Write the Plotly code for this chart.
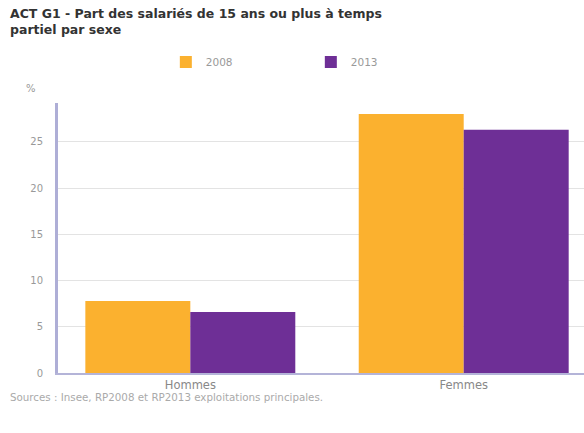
import plotly.graph_objects as go

categories = ["Hommes", "Femmes"]
values_2008 = [7.8, 28.0]
values_2013 = [6.6, 26.3]
series_names = ["2008", "2013"]
y_ticks = [0, 5, 10, 15, 20, 25]

title_text = "ACT G1 - Part des salariés de 15 ans ou plus à temps<br>partiel par sexe"
source_text = "Sources : Insee, RP2008 et RP2013 exploitations principales."

FONT = "DejaVu Sans"

fig = go.Figure()
fig.add_trace(go.Bar(x=categories, y=values_2008, name=series_names[0],
                     marker=dict(color="#FBB12F", line=dict(width=0))))
fig.add_trace(go.Bar(x=categories, y=values_2013, name=series_names[1],
                     marker=dict(color="#6E2F96", line=dict(width=0))))

fig.update_layout(
    width=584, height=433,
    margin=dict(l=58, r=0, t=103, b=60),
    paper_bgcolor="white", plot_bgcolor="white",
    barmode="group", bargap=0.232, bargroupgap=0,
    font=dict(family=FONT, color="#999999", size=10),
    legend=dict(orientation="h", x=0.205, xanchor="left", y=1.152, yanchor="middle",
                entrywidth=100, entrywidthmode="pixels",
                font=dict(family=FONT, size=10.5, color="#999999"), bgcolor="rgba(0,0,0,0)"),
    xaxis=dict(range=[-0.484, 1.44], showgrid=False, showline=True, linecolor="#b4b4d8",
               linewidth=2, ticks="", tickfont=dict(family=FONT, size=11.5, color="#888888")),
    yaxis=dict(range=[0, 29.2], tickvals=y_ticks, showgrid=True, gridcolor="#e3e3e3",
               gridwidth=1, showline=True, linecolor="#aeaed6", linewidth=3,
               zeroline=False, ticks="", ticklabelstandoff=10,
               tickfont=dict(family=FONT, size=10, color="#999999")),
    annotations=[
        dict(text=title_text, xref="paper", yref="paper", x=-0.095, y=1.365,
             xanchor="left", yanchor="top", align="left", showarrow=False,
             font=dict(family=FONT, size=12.5, color="#333333", weight="bold")),
        dict(text="%", xref="paper", yref="paper", x=-0.052, y=1.055, xanchor="center",
             yanchor="middle", showarrow=False, font=dict(family=FONT, size=10, color="#999999")),
        dict(text=source_text, xref="paper", yref="paper", x=-0.095, y=-0.09,
             xanchor="left", yanchor="middle", showarrow=False,
             font=dict(family=FONT, size=10.3, color="#aaaaaa")),
    ],
)

fig.write_html("out.html")
